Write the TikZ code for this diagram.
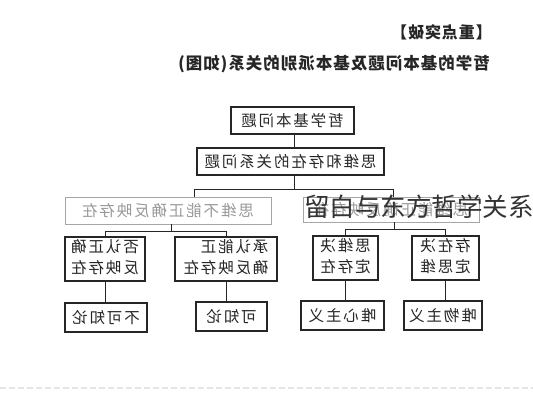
\documentclass[tikz,border=0pt]{standalone}
\usepackage{graphicx}
\usepackage{fontspec}
\newfontfamily\cjk[LetterSpace=12]{Noto Sans CJK SC}
\newfontfamily\cjkt[LetterSpace=6]{Noto Sans CJK SC}
\newfontfamily\cjkwm{Noto Sans CJK SC}
\begin{document}
\begin{tikzpicture}[x=1pt,y=-1pt,
  box/.style={draw=black!85,line width=1.1pt,inner sep=0pt,minimum height=27pt,font=\cjk\fontsize{15.5}{17}\selectfont,text=black!85},
  gbox/.style={box,draw=black!35,text=black!40,line width=0.9pt},
  tbox/.style={box,minimum height=44pt},
  conn/.style={draw=black!85,line width=1pt}]
\useasboundingbox[fill=white] (0,0) rectangle (533,400);
% header and title
\node[font=\cjkt\bfseries\fontsize{16}{17}\selectfont,text=black!85] (hd) at (441.5,32) {\reflectbox{【重点突破】}};
\node[font=\cjkt\bfseries\fontsize{16.5}{17}\selectfont,text=black!85] (tt) at (334,64.5) {\reflectbox{哲学的基本问题及基本派别的关系(如图)}};
% level 1-2
\node[box,minimum width=123pt] (b1) at (292.5,120.5) {\reflectbox{哲学基本问题}};
\node[box,minimum width=187pt] (b2) at (290.5,161.5) {\reflectbox{思维和存在的关系问题}};
% level 3
\node[gbox,minimum width=206pt] (gl) at (168,210.5) {\reflectbox{思维不能正确反映存在}};
\node[gbox,minimum width=176pt,minimum height=25pt] (gr) at (391,209.5) {\reflectbox{思维能正确反映存在}};
% level 4
\node[tbox,minimum width=80pt] (l1) at (105,259) {\reflectbox{\begin{tabular}{@{}l@{}}否认正确\\[3pt]反映存在\end{tabular}}};
\node[tbox,minimum width=102pt] (l2) at (226,259) {\reflectbox{\begin{tabular}{@{}l@{}}承认能正\\[3pt]确反映存在\end{tabular}}};
\node[tbox,minimum width=65pt] (r1) at (345.5,258) {\reflectbox{\begin{tabular}{@{}l@{}}思维决\\[3pt]定存在\end{tabular}}};
\node[tbox,minimum width=67pt] (r2) at (445.5,258) {\reflectbox{\begin{tabular}{@{}l@{}}存在决\\[3pt]定思维\end{tabular}}};
% level 5
\node[box,minimum width=82pt,minimum height=29pt] (d1) at (106,317.5) {\reflectbox{不可知论}};
\node[box,minimum width=71pt,minimum height=29pt] (d2) at (231.5,316.5) {\reflectbox{可知论}};
\node[box,minimum width=83pt,minimum height=29pt] (d3) at (342.5,315.5) {\reflectbox{唯心主义}};
\node[box,minimum width=78pt,minimum height=29pt] (d4) at (443,315.5) {\reflectbox{唯物主义}};
% connectors
\coordinate (j1) at (294,189);
\coordinate (jl) at (194,189);
\coordinate (jr) at (393,189);
\draw[conn] (b1.south -| j1) -- (b2.north -| j1);
\draw[conn] (b2.south -| j1) -- (j1);
\draw[conn] (jl |- gl.north) -- (jl) -- (jr) -- (jr |- gr.north);
\coordinate (kl) at (171,231);
\coordinate (kr) at (394,229);
\draw[conn] (gl.south -| kl) -- (kl);
\draw[conn] (l1.north) -- (l1.north |- kl) -- (l2.north |- kl) -- (l2.north);
\draw[conn] (gr.south -| kr) -- (kr);
\draw[conn] (r1.north) -- (r1.north |- kr) -- (r2.north |- kr) -- (r2.north);
\draw[conn] (l1.south) -- (l1.south |- d1.north);
\draw[conn] (l2.south) -- (l2.south |- d2.north);
\draw[conn] (r1.south) -- (r1.south |- d3.north);
\draw[conn] (r2.south) -- (r2.south |- d4.north);
% watermark
\node[font=\cjkwm\fontsize{25.5}{26}\selectfont,text=black!80,anchor=west,inner sep=0pt] (wm) at (304,207) {留白与东方哲学关系};
% bottom dashed rule
\coordinate (dl) at (0,388);
\coordinate (dr) at (533,388);
\draw[black!10,line width=2pt,dash pattern=on 6pt off 3pt] (dl) -- (dr);
\end{tikzpicture}
\end{document}
